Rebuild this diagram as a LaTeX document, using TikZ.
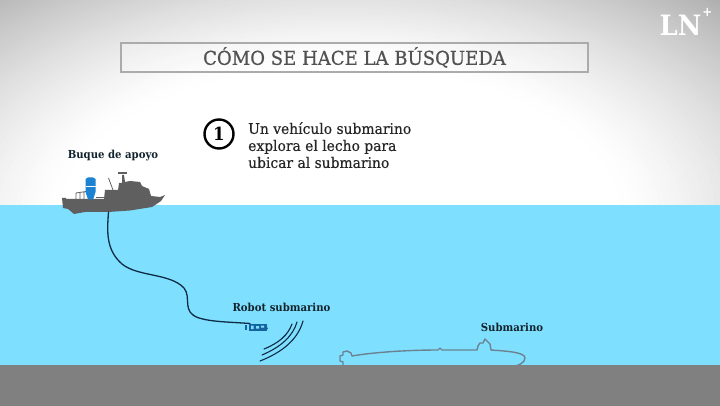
\documentclass[tikz,border=0pt]{standalone}
\usepackage{fontspec}
\setmainfont{DejaVu Serif}[FakeStretch=0.92]
\newfontfamily\headfont{DejaVu Serif}[FakeStretch=0.95,FakeBold=0.5]
\newfontfamily\bodyfont{DejaVu Serif}[FakeStretch=0.95,FakeBold=0.4]
\definecolor{water}{HTML}{7FDFFF}
\definecolor{seabed}{HTML}{808080}
\definecolor{hullgray}{HTML}{5F5F5F}
\definecolor{tankblue}{HTML}{1C82D2}
\definecolor{robotblue}{HTML}{14639F}
\definecolor{navy}{HTML}{0E2C45}
\definecolor{labelink}{HTML}{13242E}
\definecolor{hullline}{HTML}{6B8391}
\tikzset{
  tag/.style={font=\fontsize{11}{13}\selectfont\bfseries, text=labelink, inner sep=0pt},
  ping/.style={draw=navy, line width=1.1pt, line cap=round},
  hull/.style={fill=hullgray, draw=none},
  gear/.style={draw=hullgray, line width=0.8pt},
}
\begin{document}
\begin{tikzpicture}[x=1pt,y=-1pt]
\useasboundingbox (0,0) rectangle (720,406);
% sky: concentric ellipses fading from grey corners to a white centre
\begin{scope}
  \clip (0,0) rectangle (720,206);
  \fill[black!34] (0,0) rectangle (720,206);
  \foreach \k in {0,...,59}{
    \pgfmathsetmacro{\r}{1.1-\k*0.01}
    \pgfmathsetmacro{\p}{32*pow((\r-0.5)/0.5,1.3)}
    \fill[black!\p] (340,215) ellipse [x radius=\r*560pt, y radius=\r*300pt];
  }
  \fill[white] (340,215) ellipse [x radius=280pt, y radius=150pt];
\end{scope}
% water and sea floor
\fill[water] (0,205) rectangle (720,365);
\fill[seabed] (0,364.5) rectangle (720,406);

% heading
\node[draw=black!33, line width=1.3pt, fill=white, fill opacity=0.2, text opacity=1,
      minimum width=467pt, minimum height=29pt, inner sep=0pt, text=black!68,
      font=\headfont\fontsize{19}{20}\selectfont] (title) at (354.5,57.5) {CÓMO SE HACE LA BÚSQUEDA};

% brand mark
\node[text=white, inner sep=0pt, font=\fontsize{28}{28}\selectfont\bfseries] (brand) at (680.5,25) {LN};
\node[text=white, inner sep=0pt, font=\fontsize{13}{13}\selectfont\bfseries] (brandplus) at (707.5,12) {+};

% step badge and text
\node[circle, draw=black, line width=2.4pt, fill=white, minimum size=29pt, inner sep=0pt,
      font=\fontsize{18}{18}\selectfont\bfseries] (badge) at (219,134) {1};
\node[anchor=north west, align=left, inner sep=0pt, text=black!85,
      font=\bodyfont\fontsize{14.6}{17}\selectfont] (steptext) at (248,122)
  {Un vehículo submarino\\explora el lecho para\\ubicar al submarino};

% support vessel
\fill[hull] (62,198) -- (66,198) -- (66,199) -- (104,199) -- (105,190) -- (118,190)
  -- (119,183) -- (122,183) -- (122,175) -- (124,175) -- (125,182)
  -- (130,181) -- (140,182) -- (142,186) -- (149,189) -- (151,196) -- (160,197) -- (165,195)
  -- (161,201) -- (152,207) -- (130,210.5) -- (108,212) -- (85,212) -- (74,214)
  -- (68,209) -- (63,208) -- cycle;
\fill[hull] (118,172.5) rectangle (127,174);
\draw[gear] (108.5,178) -- (113,190);
\draw[gear] (76,199) -- (76,193) -- (86,191.5) (80,192.5) -- (80,199) (84,192) -- (84,199);
\draw[gear] (96,197) -- (105,197);
\fill[tankblue] (85.5,179) -- (88,177.5) -- (93,177.5) -- (95.5,179) -- (95.5,192) -- (93,199.5) -- (88,199.5) -- (85.5,192) -- cycle;
\draw[white, line width=0.4pt] (85.5,186) -- (95.5,186);
\node[tag] (shiplabel) at (113,155.5) {Buque de apoyo};
\coordinate (tether) at (108.5,212);

% robot
\fill[robotblue] (249,324) rectangle (267,330.5);
\fill[robotblue] (244.5,325) rectangle (246.5,330);
\fill[robotblue] (266,325) -- (268,329) -- (266,329) -- cycle;
\fill[water] (251,325.5) rectangle (253.5,329) (256,326) rectangle (259,328.5) (261,325.5) rectangle (264,327.5);
\coordinate (robotport) at (250,323.5);
\node[tag] (robotlabel) at (281.5,307) {Robot submarino};

% tether cable
\draw[navy, line width=1.3pt, line cap=round] (tether)
  .. controls (107,232) and (106,250) .. (122,264)
  .. controls (138,277) and (170,273) .. (184,288)
  .. controls (192,298) and (181,312) .. (199,318)
  .. controls (212,322) and (230,322) .. (robotport);

% sonar pulses
\draw[ping] (292,324) .. controls (288,335) and (279,343) .. (264,349);
\draw[ping] (297,322) .. controls (293,336) and (281,347) .. (262,355);
\draw[ping] (303,321) .. controls (298,339) and (283,352) .. (260,361);

% submarine outline, its keel hidden by the sea floor
\draw[hullline, line width=1.4pt, line join=round]
  (343,366) -- (343,362) -- (340,361) -- (340,356) -- (343,355) -- (343,352) -- (347,351)
  -- (351,353) -- (352,356)
  .. controls (375,352) and (410,350) .. (438,350)
  -- (440,348) -- (442,350) -- (477,350)
  .. controls (478,347) and (478,344) .. (480,343)
  -- (483,343) -- (485,339) -- (487,341) -- (490,344) -- (491,350)
  .. controls (505,351) and (525,352) .. (525,358)
  .. controls (525,363) and (518,366) .. (510,367)
  -- (352,366);
\fill[seabed] (330,365) rectangle (530,372);
\node[tag] (sublabel) at (512,327.5) {Submarino};
\end{tikzpicture}
\end{document}
